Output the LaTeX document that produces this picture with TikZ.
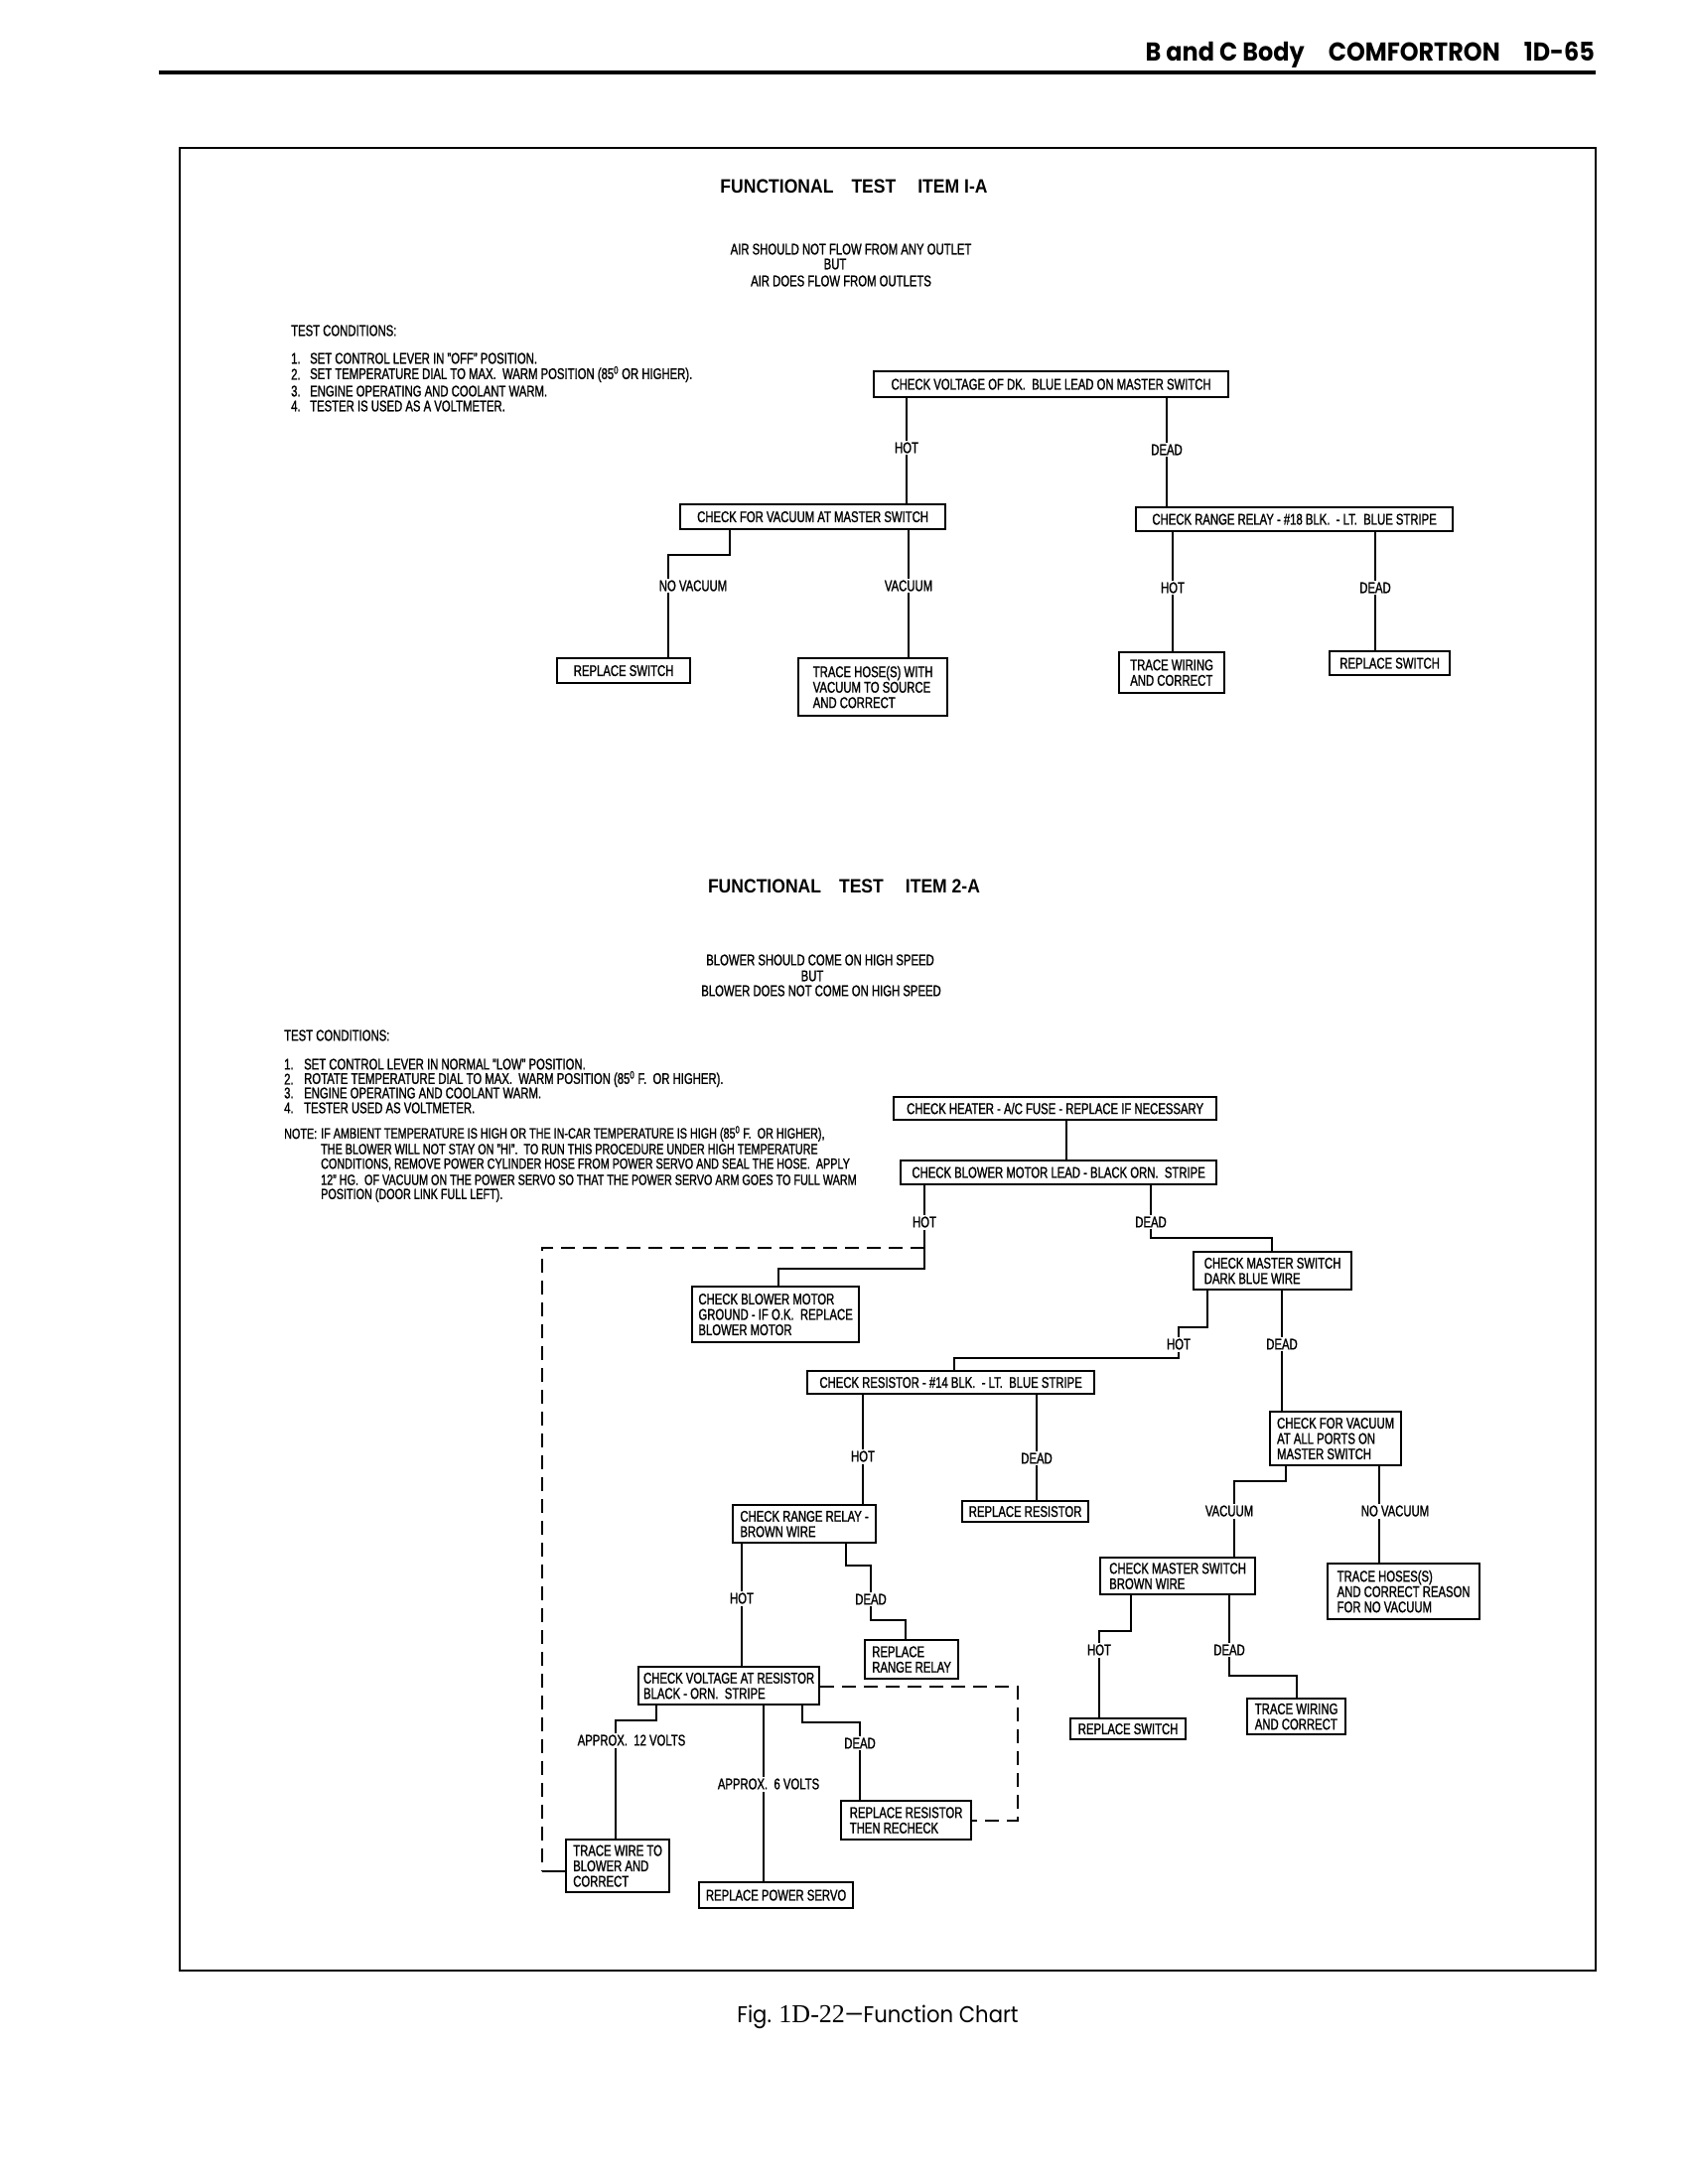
\documentclass[tikz,border=0pt]{standalone}
\usepackage{fontspec}
\setmainfont{Liberation Sans}[FakeStretch=0.73, FakeBold=1.2]
\newfontfamily\titlefont{Liberation Sans}[FakeStretch=0.9]
\newfontfamily\headfont{Poppins}[FakeStretch=0.92]
\newfontfamily\figserif{Liberation Serif}
\usetikzlibrary{backgrounds}

\begin{document}
\begin{tikzpicture}[
  x=1pt, y=-1pt,
  chart/.style={font=\fontsize{15.5}{15.5}\selectfont},
  box/.style={chart, draw, line width=2.2pt, anchor=north west, inner sep=0pt, align=center},
  mbox/.style={box, align=left},
  lbl/.style={chart, fill=white, inner xsep=1pt, inner ysep=2pt},
  plain/.style={chart, inner sep=0pt},
  notetext/.style={font=\fontsize{14.8}{15}\selectfont, inner sep=0pt, anchor=west},
  title/.style={font=\titlefont\bfseries\fontsize{19.5}{21}\selectfont, inner sep=0pt},
  wire/.style={line width=2pt},
  dashline/.style={line width=2pt, dash pattern=on 14pt off 8pt},
]
\useasboundingbox (0,0) rectangle (1700,2200);

% page head and frame
\node[font=\headfont\bfseries\fontsize{26}{28}\selectfont, anchor=east, inner sep=0pt] (head) at (1606,55)
  {B and C Body\hspace{24pt}COMFORTRON\hspace{24pt}1D-65};
\draw[line width=3.5pt] (160,73) -- (1607,73);
\draw[line width=1.8pt] (181,149) rectangle (1607,1985);
\node[font=\headfont\fontsize{23}{26}\selectfont, inner sep=0pt] (cap) at (884,2032)
  {Fig. {\figserif\fontsize{26}{28}\selectfont 1D-22}\textemdash Function Chart};

% ---- item 1-A
\node[title] (t1) at (860,188) {FUNCTIONAL\hspace{18pt}TEST\hspace{22pt}ITEM I-A};
\node[plain] (ia1) at (857,251) {AIR SHOULD NOT FLOW FROM ANY OUTLET};
\node[plain] (ia2) at (841,266) {BUT};
\node[plain] (ia3) at (847,283) {AIR DOES FLOW FROM OUTLETS};

\node[plain, anchor=west] (tca) at (293,333) {TEST CONDITIONS:};
\foreach \n/\yy/\txt in {
  1/361/{SET CONTROL LEVER IN "OFF" POSITION.},
  2/377/{SET TEMPERATURE DIAL TO MAX.\ \ WARM POSITION (85\textsuperscript{0} OR HIGHER).},
  3/394/{ENGINE OPERATING AND COOLANT WARM.},
  4/409/{TESTER IS USED AS A VOLTMETER.}
} {
  \node[plain, anchor=west] (tca\n) at (293,\yy) {\n.};
  \node[plain, anchor=west] (tcat\n) at (312,\yy) {\txt};
}

\node[box, minimum width=357pt, minimum height=26pt] (a1) at (879,373) {CHECK VOLTAGE OF DK.\ \ BLUE LEAD ON MASTER SWITCH};
\node[box, minimum width=267pt, minimum height=25pt] (a2) at (684,507) {CHECK FOR VACUUM AT MASTER SWITCH};
\node[box, minimum width=319pt, minimum height=24pt] (a3) at (1143,510) {CHECK RANGE RELAY - \#18 BLK.\ \ - LT.\ \ BLUE STRIPE};
\node[box, minimum width=134pt, minimum height=25pt] (rs1) at (560,662) {REPLACE SWITCH};
\node[mbox, minimum width=150pt, minimum height=58pt] (th1) at (803,662) {TRACE HOSE(S) WITH\\VACUUM TO SOURCE\\AND CORRECT};
\node[mbox, minimum width=106pt, minimum height=41pt] (tw1) at (1126,656) {TRACE WIRING\\AND CORRECT};
\node[box, minimum width=121pt, minimum height=24pt] (rs2) at (1338,655) {REPLACE SWITCH};

\node[lbl] (l1hot) at (913,451) {HOT};
\node[lbl] (l1dead) at (1175,453) {DEAD};
\node[lbl] (l1nov) at (698,590) {NO VACUUM};
\node[lbl] (l1vac) at (915,590) {VACUUM};
\node[lbl] (l1hotb) at (1181,592) {HOT};
\node[lbl] (l1deadb) at (1385,592) {DEAD};

% ---- item 2-A
\node[title] (t2) at (850,893) {FUNCTIONAL\hspace{18pt}TEST\hspace{22pt}ITEM 2-A};
\node[plain] (ib1) at (826,967) {BLOWER SHOULD COME ON HIGH SPEED};
\node[plain] (ib2) at (818,983) {BUT};
\node[plain] (ib3) at (827,998) {BLOWER DOES NOT COME ON HIGH SPEED};

\node[plain, anchor=west] (tcb) at (286,1043) {TEST CONDITIONS:};
\foreach \n/\yy/\txt in {
  1/1072/{SET CONTROL LEVER IN NORMAL "LOW" POSITION.},
  2/1087/{ROTATE TEMPERATURE DIAL TO MAX.\ \ WARM POSITION (85\textsuperscript{0} F.\ \ OR HIGHER).},
  3/1101/{ENGINE OPERATING AND COOLANT WARM.},
  4/1116/{TESTER USED AS VOLTMETER.}
} {
  \node[plain, anchor=west] (tcb\n) at (286,\yy) {\n.};
  \node[plain, anchor=west] (tcbt\n) at (306,\yy) {\txt};
}
\node[notetext] (note) at (286,1142) {NOTE:};
\foreach \n/\yy/\txt in {
  1/1142/{IF AMBIENT TEMPERATURE IS HIGH OR THE IN-CAR TEMPERATURE IS HIGH (85\textsuperscript{0} F.\ \ OR HIGHER),},
  2/1157.5/{THE BLOWER WILL NOT STAY ON "HI".\ \ TO RUN THIS PROCEDURE UNDER HIGH TEMPERATURE},
  3/1173/{CONDITIONS, REMOVE POWER CYLINDER HOSE FROM POWER SERVO AND SEAL THE HOSE.\ \ APPLY},
  4/1188.5/{12" HG.\ \ OF VACUUM ON THE POWER SERVO SO THAT THE POWER SERVO ARM GOES TO FULL WARM},
  5/1204/{POSITION (DOOR LINK FULL LEFT).}
} {
  \node[notetext] (nt\n) at (323,\yy) {\txt};
}

\node[box, minimum width=325pt, minimum height=23pt] (b1) at (899,1104) {CHECK HEATER - A/C FUSE - REPLACE IF NECESSARY};
\node[box, minimum width=318pt, minimum height=24pt] (b2) at (906,1168) {CHECK BLOWER MOTOR LEAD - BLACK ORN.\ \ STRIPE};
\node[mbox, minimum width=168pt, minimum height=56pt] (bg) at (696,1295) {CHECK BLOWER MOTOR\\GROUND - IF O.K.\ \ REPLACE\\BLOWER MOTOR};
\node[mbox, minimum width=159pt, minimum height=38pt] (cms1) at (1201,1260) {CHECK MASTER SWITCH\\DARK BLUE WIRE};
\node[box, minimum width=289pt, minimum height=23pt] (cr) at (812,1380) {CHECK RESISTOR - \#14 BLK.\ \ - LT.\ \ BLUE STRIPE};
\node[mbox, minimum width=132pt, minimum height=54pt] (cfv) at (1278,1421) {CHECK FOR VACUUM\\AT ALL PORTS ON\\MASTER SWITCH};
\node[box, minimum width=127pt, minimum height=21pt] (rr) at (968,1511) {REPLACE RESISTOR};
\node[mbox, minimum width=144pt, minimum height=38pt] (crr) at (737,1515) {CHECK RANGE RELAY -\\BROWN WIRE};
\node[mbox, minimum width=94pt, minimum height=39pt] (rrl) at (870,1651) {REPLACE\\RANGE RELAY};
\node[mbox, minimum width=182pt, minimum height=38pt] (cvr) at (642,1678) {CHECK VOLTAGE AT RESISTOR\\BLACK - ORN.\ \ STRIPE};
\node[mbox, minimum width=104pt, minimum height=53pt] (tw2) at (569,1852) {TRACE WIRE TO\\BLOWER AND\\CORRECT};
\node[box, minimum width=155pt, minimum height=26pt] (rps) at (703,1895) {REPLACE POWER SERVO};
\node[mbox, minimum width=131pt, minimum height=39pt] (rrc) at (846,1813) {REPLACE RESISTOR\\THEN RECHECK};
\node[mbox, minimum width=156pt, minimum height=37pt] (cmsb) at (1107,1568) {CHECK MASTER SWITCH\\BROWN WIRE};
\node[mbox, minimum width=153pt, minimum height=56pt] (ths) at (1336,1574) {TRACE HOSES(S)\\AND CORRECT REASON\\FOR NO VACUUM};
\node[mbox, minimum width=99pt, minimum height=36pt] (tw3) at (1255,1710) {TRACE WIRING\\AND CORRECT};
\node[box, minimum width=116pt, minimum height=21pt] (rs3) at (1077,1730) {REPLACE SWITCH};

\node[lbl] (l2hot) at (931,1231) {HOT};
\node[lbl] (l2dead) at (1159,1231) {DEAD};
\node[lbl] (l3hot) at (1187,1354) {HOT};
\node[lbl] (l3dead) at (1291,1354) {DEAD};
\node[lbl] (l4hot) at (869,1467) {HOT};
\node[lbl] (l4dead) at (1044,1469) {DEAD};
\node[lbl] (l5hot) at (747,1610) {HOT};
\node[lbl] (l5dead) at (877,1611) {DEAD};
\node[lbl] (l6a) at (636,1753) {APPROX.\ \ 12 VOLTS};
\node[lbl] (l6b) at (774,1797) {APPROX.\ \ 6 VOLTS};
\node[lbl] (l6c) at (866,1756) {DEAD};
\node[lbl] (l7vac) at (1238,1522) {VACUUM};
\node[lbl] (l7nov) at (1405,1522) {NO VACUUM};
\node[lbl] (l8hot) at (1107,1662) {HOT};
\node[lbl] (l8dead) at (1238,1662) {DEAD};

% bends of the connectors
\coordinate (k1) at (735,559);  \coordinate (k2) at (673,559);
\coordinate (c0) at (1074,1150);
\coordinate (k3) at (931,1278); \coordinate (k4) at (784,1278);
\coordinate (k5) at (1159,1247); \coordinate (k6) at (1281,1247);
\coordinate (k7) at (1216,1337); \coordinate (k8) at (1187,1337);
\coordinate (k9) at (1187,1368); \coordinate (k10) at (961,1368);
\coordinate (k11) at (852,1577); \coordinate (k12) at (877,1577);
\coordinate (k13) at (877,1632); \coordinate (k14) at (912,1632);
\coordinate (k15) at (661,1733); \coordinate (k16) at (620,1733);
\coordinate (k17) at (769,1760);
\coordinate (k18) at (808,1735); \coordinate (k19) at (866,1735);
\coordinate (k20) at (1295,1492); \coordinate (k21) at (1243,1492);
\coordinate (k22) at (1389,1540);
\coordinate (k23) at (1139,1643); \coordinate (k24) at (1107,1643);
\coordinate (k25) at (1238,1688); \coordinate (k26) at (1306,1688);
\coordinate (jd) at (931,1257); \coordinate (d1) at (546,1257); \coordinate (d2) at (546,1885);
\coordinate (d3) at (1025,1699);

\begin{scope}[on background layer]
  % item 1-A
  \draw[wire] (a1.south -| l1hot) -- (a2.north -| l1hot);
  \draw[wire] (a1.south -| l1dead) -- (a3.north -| l1dead);
  \draw[wire] (a2.south -| k1) -- (k1) -- (k2) -- (rs1.north -| k2);
  \draw[wire] (a2.south -| l1vac) -- (th1.north -| l1vac);
  \draw[wire] (a3.south -| l1hotb) -- (tw1.north -| l1hotb);
  \draw[wire] (a3.south -| l1deadb) -- (rs2.north -| l1deadb);
  % item 2-A
  \draw[wire] (b1.south -| c0) -- (b2.north -| c0);
  \draw[wire] (b2.south -| l2hot) -- (k3) -- (k4) -- (bg.north -| k4);
  \draw[wire] (b2.south -| l2dead) -- (k5) -- (k6) -- (cms1.north -| k6);
  \draw[wire] (cms1.south -| k7) -- (k7) -- (k8) -- (k9) -- (k10) -- (cr.north -| k10);
  \draw[wire] (cms1.south -| l3dead) -- (cfv.north -| l3dead);
  \draw[wire] (cr.south -| l4hot) -- (crr.north -| l4hot);
  \draw[wire] (cr.south -| l4dead) -- (rr.north -| l4dead);
  \draw[wire] (crr.south -| l5hot) -- (cvr.north -| l5hot);
  \draw[wire] (crr.south -| k11) -- (k11) -- (k12) -- (k13) -- (k14) -- (rrl.north -| k14);
  \draw[wire] (cvr.south -| k15) -- (k15) -- (k16) -- (tw2.north -| k16);
  \draw[wire] (cvr.south -| k17) -- (rps.north -| k17);
  \draw[wire] (cvr.south -| k18) -- (k18) -- (k19) -- (rrc.north -| k19);
  \draw[wire] (cfv.south -| k20) -- (k20) -- (k21) -- (cmsb.north -| k21);
  \draw[wire] (cfv.south -| k22) -- (ths.north -| k22);
  \draw[wire] (cmsb.south -| k23) -- (k23) -- (k24) -- (rs3.north -| k24);
  \draw[wire] (cmsb.south -| k25) -- (k25) -- (k26) -- (tw3.north -| k26);
  % dashed returns
  \draw[dashline] (jd) -- (d1) -- (d2);
  \draw[wire] (d2) -- (tw2.west |- d2);
  \draw[dashline] (cvr.east |- d3) -- (d3) |- (rrc.east);
\end{scope}
\end{tikzpicture}
\end{document}
